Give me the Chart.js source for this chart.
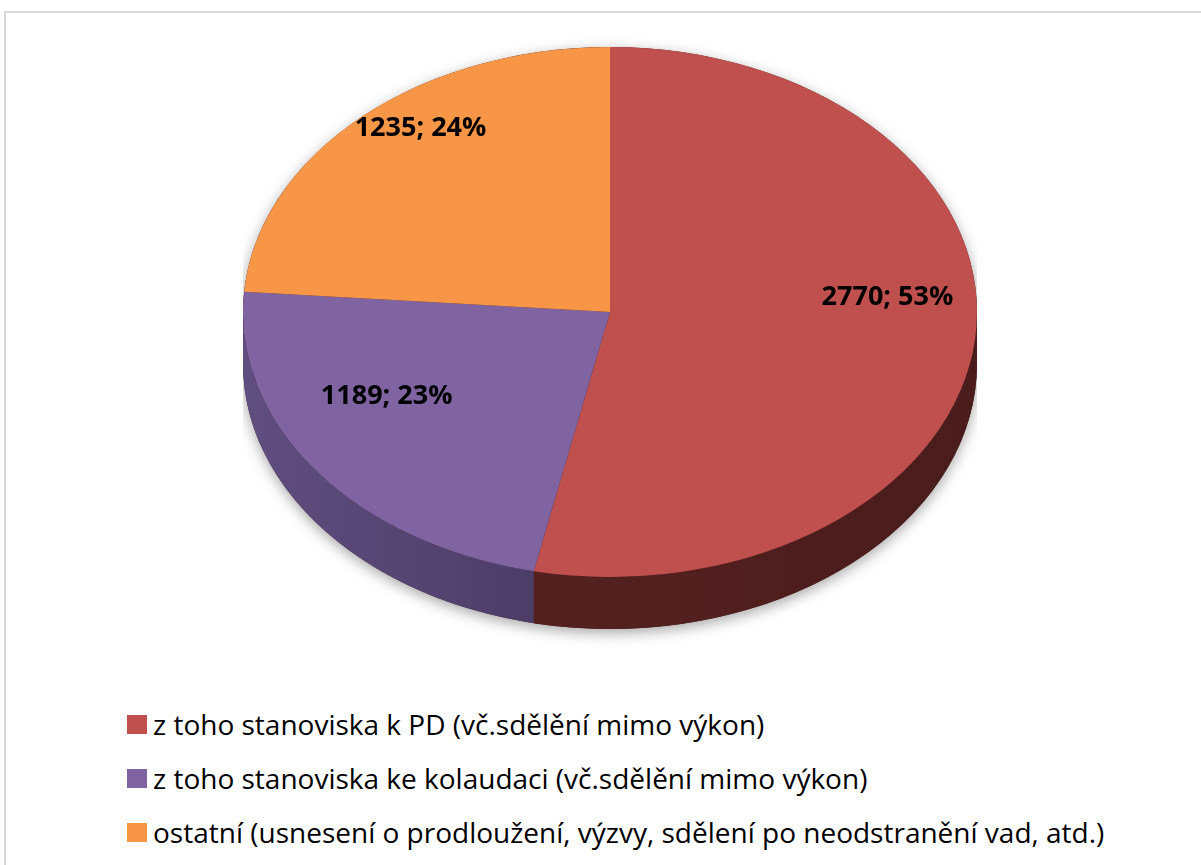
<!DOCTYPE html>
<html><head><meta charset="utf-8">
<script src="https://cdn.jsdelivr.net/npm/chart.js@4/dist/chart.umd.min.js"></script>
<style>
html,body{margin:0;padding:0;width:1201px;height:865px;overflow:hidden;background:#fff;}
#frame{position:absolute;left:4px;top:11px;width:1300px;height:1000px;border:2px solid #d9d9d9;box-sizing:border-box;}
#wrap{position:absolute;left:243px;top:-55px;width:734px;height:734px;}
#legend{position:absolute;left:127px;top:697px;font-family:"Open Sans",sans-serif;font-size:28px;color:#000;}
.item{display:flex;align-items:center;height:54px;white-space:nowrap;}
.sw{width:20px;height:19px;margin-right:6px;flex:none;}
</style></head>
<body>
<div id="frame"></div>
<div id="wrap"><canvas id="c" width="734" height="734"></canvas></div>
<div id="legend"></div>
<script>
const categories = [
  'z toho stanoviska k PD (vč.sdělění mimo výkon)',
  'z toho stanoviska ke kolaudaci (vč.sdělění mimo výkon)',
  'ostatní (usnesení o prodloužení, výzvy, sdělení po neodstranění vad, atd.)'
];
const values = [2770, 1189, 1235];
const colors = ['#C0504D', '#8064A2', '#F79646'];
const sideColors = [['#5a2422', '#4a1c1c'], ['#5f4e80', '#2f2542'], ['#b36a2f', '#8a5020']];

const TILT = 0.722, DEPTH = 52, LABEL_F = 0.76, LABEL_LIFT = 36;
const total = values.reduce((a, b) => a + b, 0);

const pie3d = {
  id: 'pie3d',
  beforeDatasetsDraw(chart) {
    const ctx = chart.ctx;
    const arcs = chart.getDatasetMeta(0).data;
    const cx = arcs[0].x, cy = arcs[0].y, r = arcs[0].outerRadius, ry = r * TILT;
    ctx.save();
    ctx.shadowColor = 'rgba(0,0,0,0.35)';
    ctx.shadowBlur = 14;
    ctx.shadowOffsetY = 4;
    ctx.fillStyle = '#4a1c1c';
    ctx.beginPath();
    ctx.ellipse(cx, cy, r, ry, 0, Math.PI, 2 * Math.PI);
    ctx.ellipse(cx, cy + DEPTH, r, ry, 0, 0, Math.PI);
    ctx.closePath();
    ctx.fill();
    ctx.restore();
    arcs.forEach((a, i) => {
      const s = a.startAngle, e = a.endAngle;
      for (const off of [-2 * Math.PI, 0, 2 * Math.PI]) {
        const a1 = Math.max(s, off), a2 = Math.min(e, off + Math.PI);
        if (a2 > a1) {
          ctx.save();
          const g = ctx.createLinearGradient(cx - r, 0, cx + r, 0);
          g.addColorStop(0, sideColors[i][0]);
          g.addColorStop(1, sideColors[i][1]);
          ctx.fillStyle = g;
          ctx.beginPath();
          ctx.ellipse(cx, cy, r, ry, 0, a1, a2);
          ctx.ellipse(cx, cy + DEPTH, r, ry, 0, a2, a1, true);
          ctx.closePath();
          ctx.fill();
          ctx.restore();
        }
      }
    });
    ctx.save();
    ctx.translate(cx, cy);
    ctx.scale(1, TILT);
    ctx.translate(-cx, -cy);
  },
  afterDatasetsDraw(chart) {
    const ctx = chart.ctx;
    ctx.restore();
    const arcs = chart.getDatasetMeta(0).data;
    ctx.save();
    ctx.font = 'bold 27px "Open Sans", sans-serif';
    ctx.fillStyle = '#000';
    ctx.textAlign = 'center';
    ctx.textBaseline = 'middle';
    arcs.forEach((a, i) => {
      const mid = (a.startAngle + a.endAngle) / 2;
      const x = a.x + LABEL_F * a.outerRadius * Math.cos(mid);
      const y = a.y + LABEL_F * a.outerRadius * TILT * Math.sin(mid) - LABEL_LIFT;
      const pct = Math.round(values[i] / total * 100);
      ctx.fillText(values[i] + '; ' + pct + '%', x, y);
    });
    ctx.restore();
  }
};

new Chart(document.getElementById('c'), {
  type: 'pie',
  data: {
    labels: categories,
    datasets: [{ data: values, backgroundColor: colors, borderWidth: 0 }]
  },
  options: {
    responsive: false,
    animation: false,
    events: [],
    layout: { padding: 0 },
    plugins: { legend: { display: false }, tooltip: { enabled: false } }
  },
  plugins: [pie3d]
});

const leg = document.getElementById('legend');
categories.forEach((c, i) => {
  const d = document.createElement('div');
  d.className = 'item';
  const sw = document.createElement('span');
  sw.className = 'sw';
  sw.style.background = colors[i];
  const t = document.createElement('span');
  t.textContent = c;
  d.appendChild(sw);
  d.appendChild(t);
  leg.appendChild(d);
});
</script>
</body></html>
